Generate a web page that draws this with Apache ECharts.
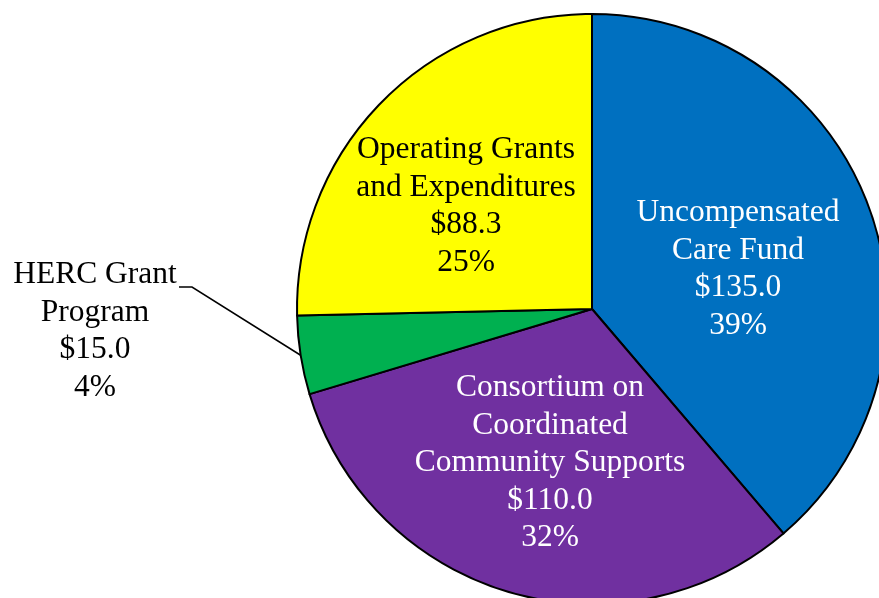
<!DOCTYPE html>
<html>
<head>
<meta charset="utf-8">
<script src="https://cdn.jsdelivr.net/npm/echarts@6/dist/echarts.min.js"></script>
<style>
  html, body { margin: 0; padding: 0; background: #fff; }
  #main { width: 879px; height: 598px; }
</style>
</head>
<body>
<div id="main"></div>
<script>
// slices, clockwise from 12 o'clock
const names = ['Uncompensated\nCare Fund', 'Consortium on\nCoordinated\nCommunity Supports', 'HERC Grant\nProgram', 'Operating Grants\nand Expenditures'];
const values = [135.0, 110.0, 15.0, 88.3];
const colors = ['#0070C0', '#7030A0', '#00B050', '#FFFF00'];
const textColors = ['#fff', '#fff', '#000', '#000'];

// where each label sits (centre of the text block)
const labelPos = [[738, 269], [550, 463], [95, 331], [466, 206]];

const chart = echarts.init(document.getElementById('main'));

const option = {
  animation: false,
  series: [{
    type: 'pie',
    center: [592, 309],
    radius: 295,
    startAngle: 90,
    clockwise: true,
    percentPrecision: 0,
    itemStyle: {
      borderColor: '#000',
      borderWidth: 2
    },
    label: {
      fontFamily: 'Liberation Serif',
      fontSize: 31.5,
      lineHeight: 37.5,
      align: 'center',
      formatter: function (p) {
        return p.name + '\n$' + p.value.toFixed(1) + '\n' + p.percent + '%';
      }
    },
    labelLine: {
      show: false
    },
    labelLayout: function (params) {
      const i = params.dataIndex;
      const out = {
        x: labelPos[i][0],
        y: labelPos[i][1],
        align: 'center',
        verticalAlign: 'middle'
      };
      if (i === 2) {
        const start = params.labelLinePoints ? params.labelLinePoints[0] : [301, 355];
        const lx = labelPos[i][0] + 97;
        const ly = labelPos[i][1] - 44;
        out.labelLinePoints = [start, [lx, ly], [lx - 13, ly]];
      }
      return out;
    },
    data: values.map(function (v, i) {
      const d = {
        name: names[i],
        value: v,
        itemStyle: { color: colors[i] },
        label: { color: textColors[i], position: i === 2 ? 'outside' : 'inside' }
      };
      if (i === 2) {
        d.labelLine = { show: true, length: 20, length2: 20, lineStyle: { color: '#000', width: 1.5 } };
      }
      return d;
    })
  }]
};

chart.setOption(option);
</script>
</body>
</html>
